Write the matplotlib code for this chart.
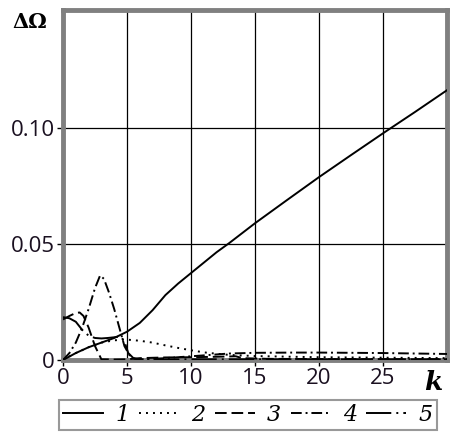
import matplotlib
matplotlib.use("Agg")
import matplotlib.pyplot as plt
from matplotlib.lines import Line2D

# Curve data: wave number k vs. frequency shift ΔΩ
k1 = [0, 1, 2, 3, 4, 5, 6, 7, 8, 9, 10, 11, 12, 13, 15, 17.5, 20, 22.5, 25, 27.5, 30]
d1 = [0, 0.003, 0.0055, 0.0075, 0.0095, 0.0122, 0.016, 0.0215, 0.028, 0.033, 0.0375,
      0.042, 0.0465, 0.0505, 0.059, 0.069, 0.0789, 0.0884, 0.0978, 0.107, 0.1164]

k2 = [0, 1, 2, 3, 4, 5, 6, 7, 8, 9, 10, 11, 12, 13, 15, 20, 25, 30]
d2 = [0, 0.003, 0.0055, 0.0075, 0.0085, 0.0088, 0.0083, 0.0075, 0.0063, 0.0052, 0.0042,
      0.0033, 0.0027, 0.0022, 0.0017, 0.0012, 0.001, 0.0008]

k3 = [0, 0.5, 1, 1.3, 1.6, 2, 2.5, 3, 4, 5, 6, 8, 10, 12, 13.5, 14, 16, 20, 30]
d3 = [0.0175, 0.019, 0.0203, 0.0205, 0.019, 0.014, 0.006, 0.0003, 0.0002, 0.0003, 0.0008,
      0.0011, 0.0012, 0.0014, 0.0016, 0.0008, 0.0005, 0.0004, 0.0003]

k4 = [0, 0.5, 1, 1.5, 2, 2.5, 2.9, 3.2, 3.6, 4, 4.4, 4.8, 5.2, 5.6, 6, 7, 8, 9, 10, 11,
      12, 13, 15, 18, 20, 25, 30]
d4 = [0, 0.003, 0.0075, 0.014, 0.022, 0.031, 0.0365, 0.035, 0.029, 0.022, 0.014, 0.006,
      0.002, 0.0005, 0.0003, 0.0005, 0.0008, 0.0012, 0.0016, 0.002, 0.0024, 0.0028,
      0.0031, 0.0032, 0.0032, 0.003, 0.0026]

k5 = [0, 0.5, 1, 1.5, 2, 2.5, 3, 3.5, 4, 4.5, 4.8, 5.1, 5.5, 6, 10, 20, 30]
d5 = [0.0185, 0.018, 0.0165, 0.013, 0.0105, 0.0095, 0.0093, 0.0095, 0.0098, 0.0102,
      0.008, 0.003, 0.0008, 0.0002, 0.0003, 0.0003, 0.0003]

labels = ["1", "2", "3", "4", "5"]
xticks = [0, 5, 10, 15, 20, 25]
yticks = [0, 0.05, 0.10]
yticklabels = ["0", "0.05", "0.10"]

styles = ["-", (0, (1, 2.6)), (0, (6, 2.5)), (0, (5.5, 2, 1, 2)), (0, (13, 2.6, 1, 2.6))]
LW = 1.4

fig = plt.figure(figsize=(4.51, 4.33), dpi=100)
ax = fig.add_axes([63 / 451, 1 - 360 / 433, (447 - 63) / 451, (360 - 10) / 433])

series = [(k1, d1), (k2, d2), (k3, d3), (k4, d4), (k5, d5)]
for (kk, dd), ls in zip(series, styles):
    ax.plot(kk, dd, color="black", lw=LW, linestyle=ls, zorder=3)

ax.set_xlim(0, 30)
ax.set_ylim(0, 0.151)
ax.set_xticks(xticks)
ax.set_xticklabels([str(t) for t in xticks])
ax.set_yticks(yticks)
ax.set_yticklabels(yticklabels)
ax.grid(True, color="black", lw=0.9, zorder=1)
ax.tick_params(direction="out", length=4, width=1, color="black", pad=2, labelsize=16,
               labelcolor="#1a1020")
for lab in ax.get_xticklabels() + ax.get_yticklabels():
    lab.set_fontfamily("Open Sans")
for sp in ax.spines.values():
    sp.set_color("#808080")
    sp.set_linewidth(3.5)

fig.text(12 / 451, 1 - 22 / 433, "ΔΩ", fontsize=15, fontweight="bold",
         family="DejaVu Serif", ha="left", va="center")
fig.text(433 / 451, 1 - 383 / 433, "k", fontsize=19, fontweight="bold", style="italic",
         family="DejaVu Serif", ha="center", va="center")

handles = [Line2D([], [], color="black", lw=LW, linestyle=ls) for ls in styles]
leg = fig.legend(handles, labels, ncol=5, loc="center",
                 bbox_to_anchor=(248 / 451, 1 - 415 / 433),
                 handlelength=1.8, handletextpad=0.55, columnspacing=0.42,
                 borderpad=0.2, borderaxespad=0, fancybox=False, frameon=True,
                 prop={"family": "DejaVu Serif", "style": "italic", "size": 16})
leg.get_frame().set_edgecolor("#808080")
leg.get_frame().set_linewidth(1.5)

fig.savefig("out.png", dpi=100)
